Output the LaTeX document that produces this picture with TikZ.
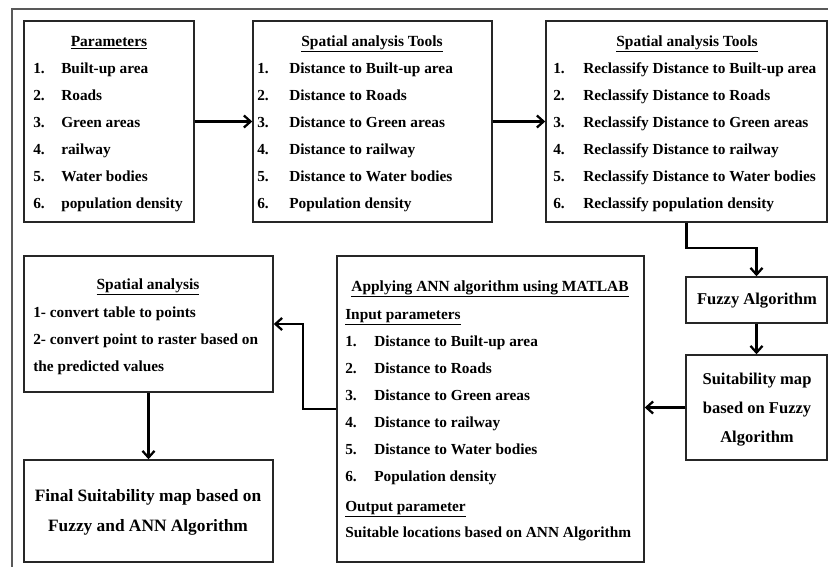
\documentclass[tikz,border=0pt]{standalone}
\usepackage{fontspec}
\setmainfont{Liberation Serif}
\usetikzlibrary{arrows.meta, fit, calc}
\tikzset{
  frame line/.style = {draw=black!65, line width=1.5pt},
  box/.style        = {draw=black!85, line width=1.1pt, inner sep=0pt},
  flow/.style       = {-{Straight Barb[length=5pt, width=9pt]}, line width=1.7pt},
  head/.style       = {font=\fontsize{11.6}{14}\bfseries\selectfont, anchor=mid, inner sep=0pt, yshift=-1pt},
  entry/.style      = {font=\fontsize{11.5}{14}\bfseries\selectfont, anchor=mid west, inner sep=0pt, yshift=-1pt},
  mid box/.style    = {font=\fontsize{12.4}{15}\bfseries\selectfont, anchor=mid, inner sep=0pt, yshift=-1pt},
  big/.style        = {font=\fontsize{13}{16}\bfseries\selectfont, anchor=mid, inner sep=0pt, yshift=-1pt},
}

\begin{document}
\begin{tikzpicture}[x=0.75pt, y=-0.75pt]

  \useasboundingbox (0,0) rectangle (828,567);

  % outer frame (cut at right and bottom)
  \draw[frame line] (12,567) -- (12,9) -- (828,9);

  % ── top row ───────────────────────────────────────────────
  \node[box, fit={(24,21) (194,222)}]  (params)  {};
  \node[box, fit={(253,21) (492,222)}] (tools)   {};
  \node[box, fit={(546,21) (827,222)}] (reclass) {};

  \node[head] (params-t)  at (109,42) {\underline{Parameters}};
  \node[head] (tools-t)   at (372,42) {\underline{Spatial analysis Tools}};
  \node[head] (reclass-t) at (687,42) {\underline{Spatial analysis Tools}};

  \foreach \i/\txt in {1/Built-up area, 2/Roads, 3/Green areas,
                       4/railway, 5/Water bodies, 6/population density}{
    \node[entry] (pn\i) at (33,{42+27*\i}) {\i.};
    \node[entry] (pt\i) at (61,{42+27*\i}) {\txt};
  }

  \foreach \i/\txt in {1/Distance to Built-up area, 2/Distance to Roads,
                       3/Distance to Green areas, 4/Distance to railway,
                       5/Distance to Water bodies, 6/Population density}{
    \node[entry] (tn\i) at (257,{42+27*\i}) {\i.};
    \node[entry] (tt\i) at (289,{42+27*\i}) {\txt};
  }

  \foreach \i/\txt in {1/Reclassify Distance to Built-up area,
                       2/Reclassify Distance to Roads,
                       3/Reclassify Distance to Green areas,
                       4/Reclassify Distance to railway,
                       5/Reclassify Distance to Water bodies,
                       6/Reclassify population density}{
    \node[entry] (rn\i) at (553,{42+27*\i}) {\i.};
    \node[entry] (rt\i) at (583,{42+27*\i}) {\txt};
  }

  % ── right column ──────────────────────────────────────────
  \node[box, fit={(686,277) (827,323)}] (fuzzy) {};
  \node[mid box] (fuzzy-t) at (757,300) {Fuzzy Algorithm};

  \node[box, fit={(686,355) (827,460)}] (suit) {};
  \node[mid box] (suit-1) at (757,380) {Suitability map};
  \node[mid box] (suit-2) at (757,409) {based on Fuzzy};
  \node[mid box] (suit-3) at (757,438) {Algorithm};

  % ── ANN box ───────────────────────────────────────────────
  \node[box, fit={(337,256) (644,562)}] (ann) {};
  \node[head]  (ann-t)  at (490,287) {\underline{Applying ANN algorithm using MATLAB}};
  \node[entry] (ann-in) at (345,315) {\underline{Input parameters}};
  \foreach \i/\txt in {1/Distance to Built-up area, 2/Distance to Roads,
                       3/Distance to Green areas, 4/Distance to railway,
                       5/Distance to Water bodies, 6/Population density}{
    \node[entry] (an\i) at (345,{315+27*\i}) {\i.};
    \node[entry] (at\i) at (374,{315+27*\i}) {\txt};
  }
  \node[entry] (ann-out) at (345,507) {\underline{Output parameter}};
  \node[entry] (ann-res) at (345,533) {Suitable locations based on ANN Algorithm};

  % ── left column ───────────────────────────────────────────
  \node[box, fit={(24,256) (273,392)}] (spatial) {};
  \node[head]  (spatial-t) at (148,285) {\underline{Spatial analysis}};
  \node[entry] (spatial-1) at (33,313) {1- convert table to points};
  \node[entry] (spatial-2) at (33,340) {2- convert point to raster based on};
  \node[entry] (spatial-3) at (33,367) {the predicted values};

  \node[box, fit={(24,460) (273,562)}] (final) {};
  \node[big] (final-1) at (148,497) {Final Suitability map based on};
  \node[big] (final-2) at (148,527) {Fuzzy and ANN Algorithm};

  % ── connectors ────────────────────────────────────────────
  \draw[flow] (params) -- (tools);
  \draw[flow] (tools) -- (reclass);
  \draw[flow] (reclass.south) -- ++(0,25) -| (fuzzy.north);
  \draw[flow] (fuzzy) -- (suit);
  \draw[flow] (suit.west) -- (suit.west -| ann.east);
  \draw[flow] (ann.west) -- ++(-33,0) |- (spatial.east);
  \draw[flow] (spatial) -- (final);

\end{tikzpicture}
\end{document}
